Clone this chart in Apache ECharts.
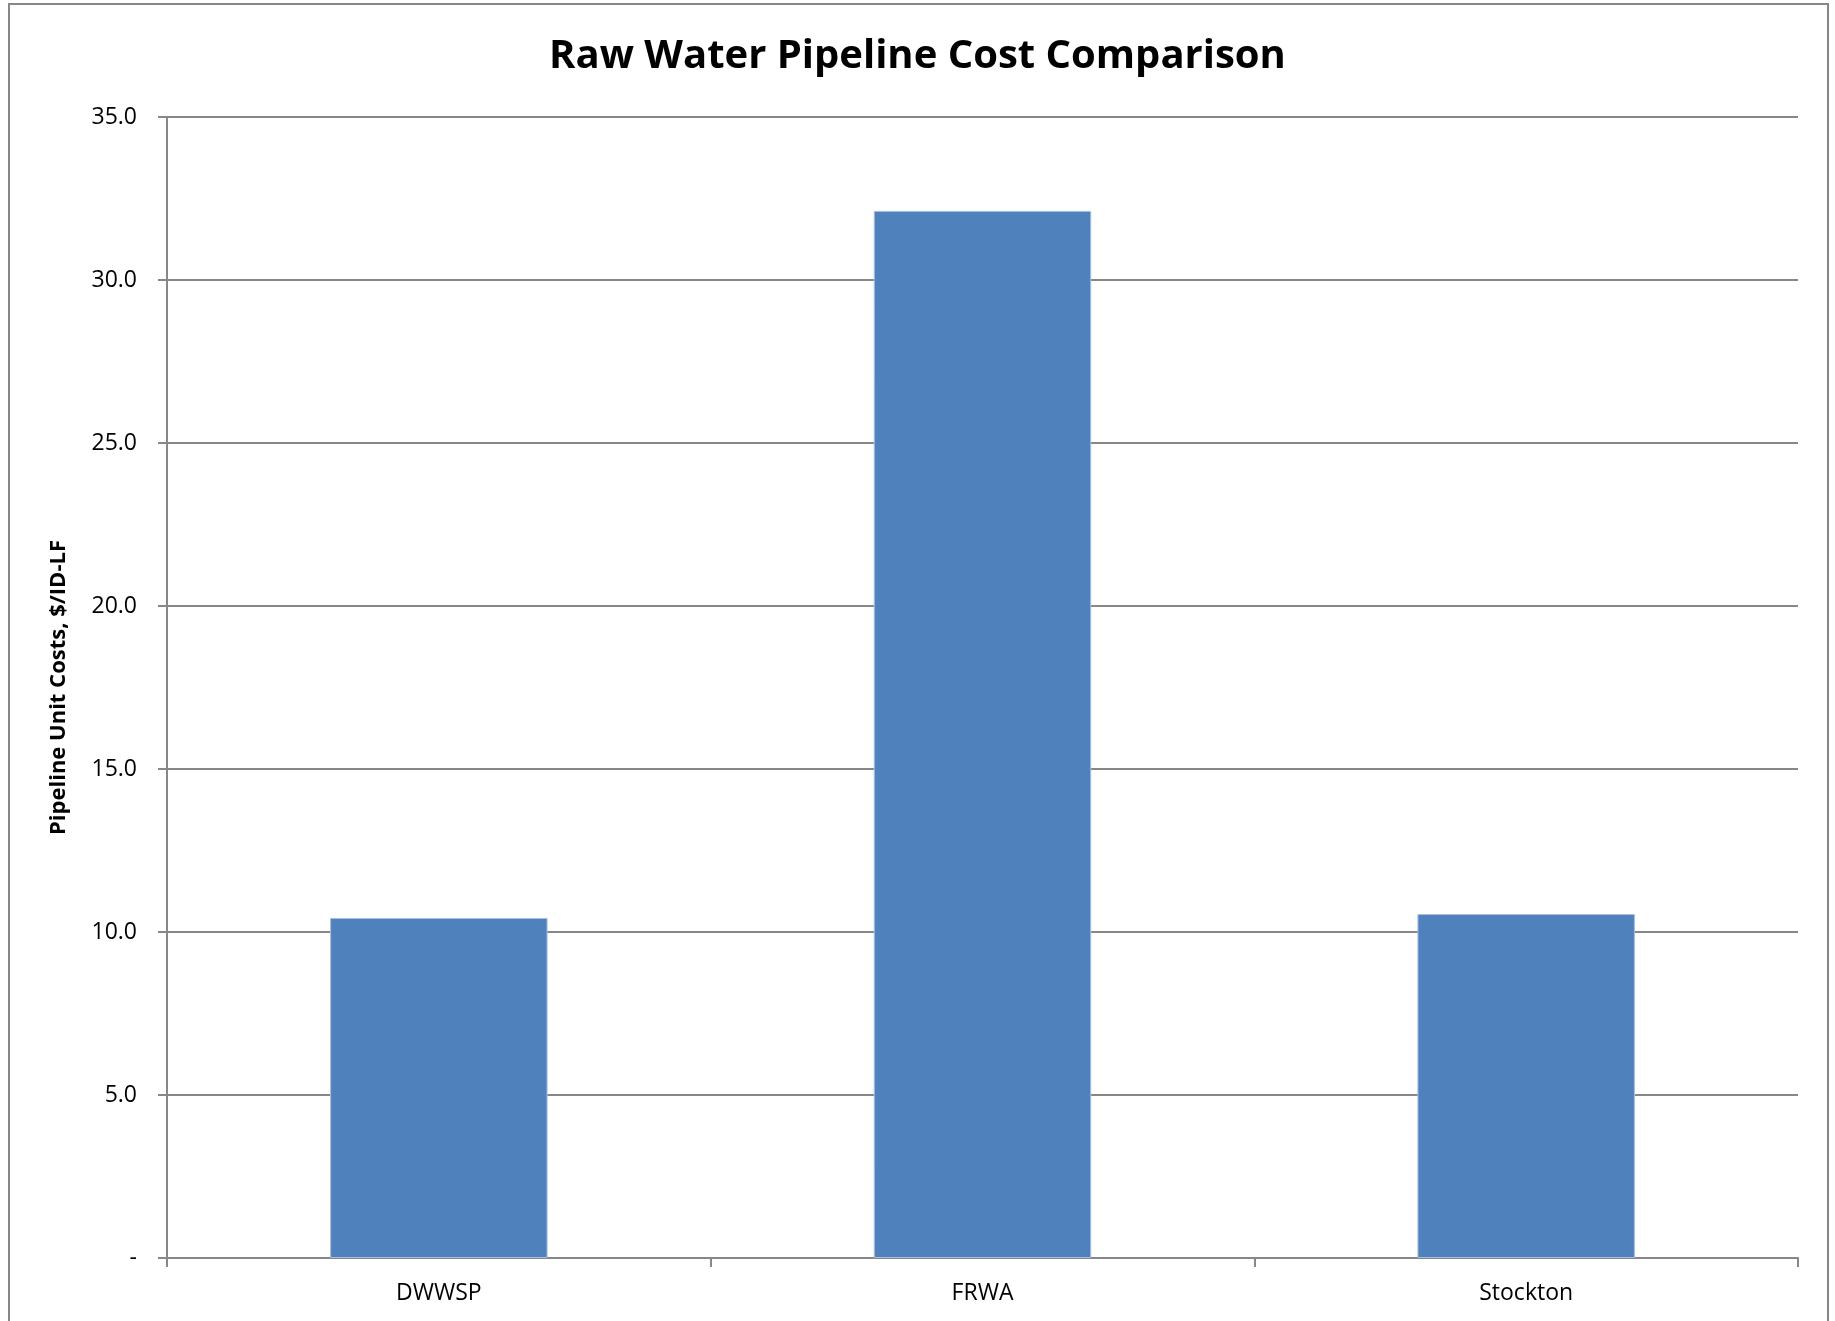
<!DOCTYPE html>
<html>
<head>
<meta charset="utf-8">
<script src="https://cdn.jsdelivr.net/npm/echarts@6/dist/echarts.min.js"></script>
<style>html,body{margin:0;padding:0;background:#fff;}#c{width:1835px;height:1321px;}</style>
</head>
<body>
<div id="c"></div>
<script>
const categories = ['DWWSP', 'FRWA', 'Stockton'];
const unitCosts = [10.43, 32.12, 10.55];
const yTicks = { min: 0, max: 35, interval: 5 };

const chart = echarts.init(document.getElementById('c'));
chart.setOption({
  animation: false,
  backgroundColor: '#fff',
  title: {
    text: 'Raw Water Pipeline Cost Comparison',
    left: 'center',
    top: 32,
    textStyle: { fontFamily: 'Open Sans', fontWeight: 'bold', fontSize: 40, color: '#000' }
  },
  graphic: [{
    type: 'rect',
    shape: { x: 9, y: 4, width: 1819, height: 1340 },
    style: { fill: 'none', stroke: '#878787', lineWidth: 2 },
    silent: true
  }],
  grid: { left: 167, top: 117, right: 37, bottom: 63 },
  xAxis: {
    type: 'category',
    data: categories,
    axisLine: { lineStyle: { color: '#878787', width: 2 } },
    axisTick: { show: true, length: 9, lineStyle: { color: '#878787', width: 2 } },
    axisLabel: { margin: 24, fontFamily: 'Open Sans', fontSize: 23, color: '#000' }
  },
  yAxis: {
    type: 'value',
    min: yTicks.min, max: yTicks.max, interval: yTicks.interval,
    name: 'Pipeline Unit Costs, $/ID-LF',
    nameLocation: 'middle',
    nameRotate: 90,
    nameGap: 97,
    nameTextStyle: { fontFamily: 'Open Sans', fontWeight: 'bold', fontSize: 22, color: '#000' },
    axisLine: { show: true, lineStyle: { color: '#878787', width: 2 } },
    axisTick: { show: true, length: 9, lineStyle: { color: '#878787', width: 2 } },
    splitLine: { show: true, lineStyle: { color: '#878787', width: 2 } },
    axisLabel: {
      margin: 30, fontFamily: 'Open Sans', fontSize: 23, color: '#000',
      formatter: v => v === 0 ? '-' : v.toFixed(1)
    }
  },
  series: [{
    type: 'bar',
    data: unitCosts,
    barWidth: '40%',
    itemStyle: { color: '#4F81BD', borderColor: '#A7BFDE', borderWidth: 1 }
  }]
});
</script>
</body>
</html>
